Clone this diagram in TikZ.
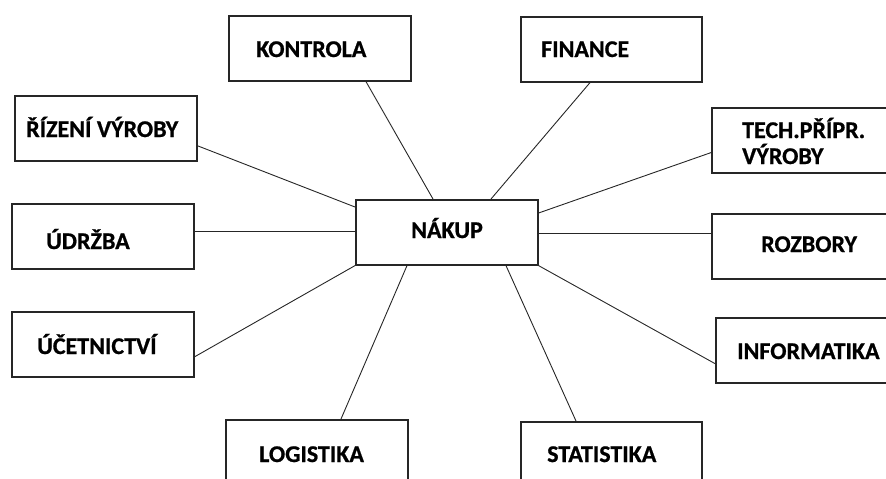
\documentclass[tikz,border=0pt]{standalone}
\usepackage{fontspec}
\setmainfont{Carlito}
\newfontfamily\boxfont{Carlito}[BoldFeatures={FakeBold=0.8}]
\begin{document}
\begin{tikzpicture}[x=1pt,y=-1pt,
  box/.style={draw=black!85,line width=1.6pt,rectangle,inner sep=0pt,anchor=north west},
  lbl/.style={anchor=base west,inner sep=0pt,font=\boxfont\bfseries\fontsize{24}{28}\selectfont},
  link/.style={draw=black!85,line width=0.9pt}]
\useasboundingbox (0,0) rectangle (886,479);
\clip (0,0) rectangle (886,479);
% boxes: top-left corner, size
\node[box,minimum width=182pt,minimum height=65pt] (kon) at (228,15) {};
\node[box,minimum width=181pt,minimum height=65pt] (fin) at (520,16) {};
\node[box,minimum width=182pt,minimum height=65pt] (riz) at (14,95) {};
\node[box,minimum width=190pt,minimum height=65pt] (tech) at (711,107) {};
\node[box,minimum width=182pt,minimum height=65pt] (nak) at (355,199) {};
\node[box,minimum width=182pt,minimum height=65pt] (udr) at (11,203) {};
\node[box,minimum width=190pt,minimum height=65pt] (roz) at (711,213) {};
\node[box,minimum width=182pt,minimum height=65pt] (uce) at (11,311) {};
\node[box,minimum width=190pt,minimum height=65pt] (inf) at (715,317) {};
\node[box,minimum width=182pt,minimum height=75pt] (log) at (225,419) {};
\node[box,minimum width=181pt,minimum height=75pt] (sta) at (520,421) {};
% labels (baseline positions)
\node[lbl] (tkon) at (256,57) {KONTROLA};
\node[lbl] (tfin) at (541,57) {FINANCE};
\node[lbl] (triz) at (26,137) {ŘÍZENÍ VÝROBY};
\node[lbl] (ttech1) at (742,138) {TECH.PŘÍPR.};
\node[lbl] (ttech2) at (742,164) {VÝROBY};
\node[lbl] (tnak) at (411,238) {NÁKUP};
\node[lbl] (tudr) at (46,249) {ÚDRŽBA};
\node[lbl] (troz) at (761,252) {ROZBORY};
\node[lbl] (tuce) at (37,354) {ÚČETNICTVÍ};
\node[lbl] (tinf) at (737,359) {INFORMATIKA};
\node[lbl] (tlog) at (259,462) {LOGISTIKA};
\node[lbl] (tsta) at (547,462) {STATISTIKA};
% connectors to the central box (canvas y points up for shifts)
\draw[link] ([xshift=138pt]kon.south west) -- ([xshift=78pt]nak.north west);
\draw[link] ([xshift=70pt]fin.south west) -- ([xshift=136pt]nak.north west);
\draw[link] ([yshift=-17.5pt]riz.east) -- ([yshift=-8pt]nak.north west);
\draw[link] ([yshift=5pt]udr.east) -- ([yshift=5pt]udr.east -| nak.west);
\draw[link] ([yshift=-12.5pt]uce.east) -- (nak.south west);
\draw[link] ([xshift=52pt]nak.south west) -- ([xshift=116pt]log.north west);
\draw[link] ([xshift=151pt]nak.south west) -- ([xshift=56pt]sta.north west);
\draw[link] (nak.south east) -- ([yshift=20pt]inf.south west);
\draw[link] ([yshift=-1.5pt]nak.east) -- ([yshift=-1.5pt]nak.east -| roz.west);
\draw[link] ([yshift=-14pt]nak.north east) -- ([yshift=21pt]tech.south west);
\end{tikzpicture}
\end{document}
